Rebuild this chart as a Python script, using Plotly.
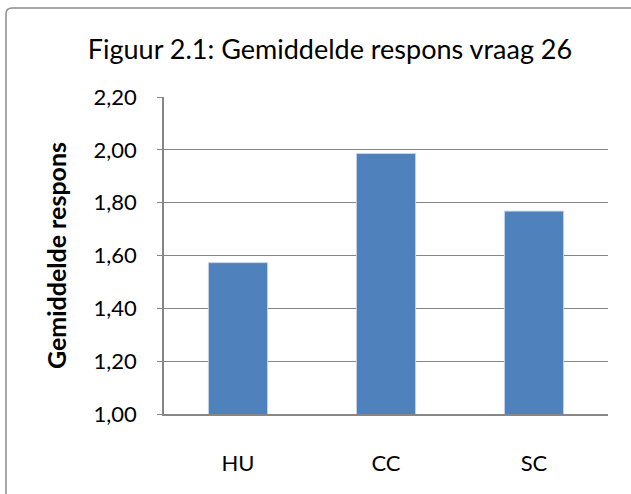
import plotly.graph_objects as go

categories = ["HU", "CC", "SC"]
values = [1.573, 1.986, 1.768]
y_ticks = [1.0, 1.2, 1.4, 1.6, 1.8, 2.0, 2.2]

W, H = 631, 494
L, R, T, B = 164, 23, 97, 80
pw, ph = W - L - R, H - T - B

def px_x(x):
    return (x - L) / pw

def px_y(y):
    return (H - B - y) / ph

fig = go.Figure(go.Bar(
    x=categories, y=values, width=0.4,
    marker=dict(color="#4F81BD", line=dict(color="#C6D4E8", width=1)),
))

border_path = (f"M {px_x(6)},{px_y(H+5)} L {px_x(6)},{px_y(14)} "
               f"Q {px_x(6)},{px_y(8)} {px_x(12)},{px_y(8)} L {px_x(W+5)},{px_y(8)}")

fig.update_layout(
    width=W, height=H,
    margin=dict(l=L, r=R, t=T, b=B),
    paper_bgcolor="white", plot_bgcolor="white",
    separators=",.",
    font=dict(family="Lato, Open Sans, sans-serif", color="#000000", size=22),
    title=dict(text="Figuur 2.1: Gemiddelde respons vraag 26", x=330 / W, xanchor="center",
               y=1 - 50 / H, yanchor="middle", font=dict(size=27)),
    xaxis=dict(showline=True, linecolor="#868686", linewidth=1.5, ticks="",
               ticklabelstandoff=29, tickfont=dict(size=22)),
    yaxis=dict(range=[1.0, 2.2], tickvals=y_ticks, tickformat=".2f",
               showgrid=True, gridcolor="#868686", gridwidth=1,
               showline=True, linecolor="#868686", linewidth=1.5,
               ticks="outside", ticklen=5, tickcolor="#868686",
               ticklabelstandoff=16, tickfont=dict(size=22),
               title=dict(text="<b>Gemiddelde respons</b>", font=dict(size=25), standoff=20)),
    shapes=[dict(type="path", path=border_path, xref="paper", yref="paper",
                 line=dict(color="#8C8C8C", width=1.5))],
    showlegend=False,
)

fig.write_html("out.html", config={"displayModeBar": False},
               post_script="document.body.style.margin='0px';")
